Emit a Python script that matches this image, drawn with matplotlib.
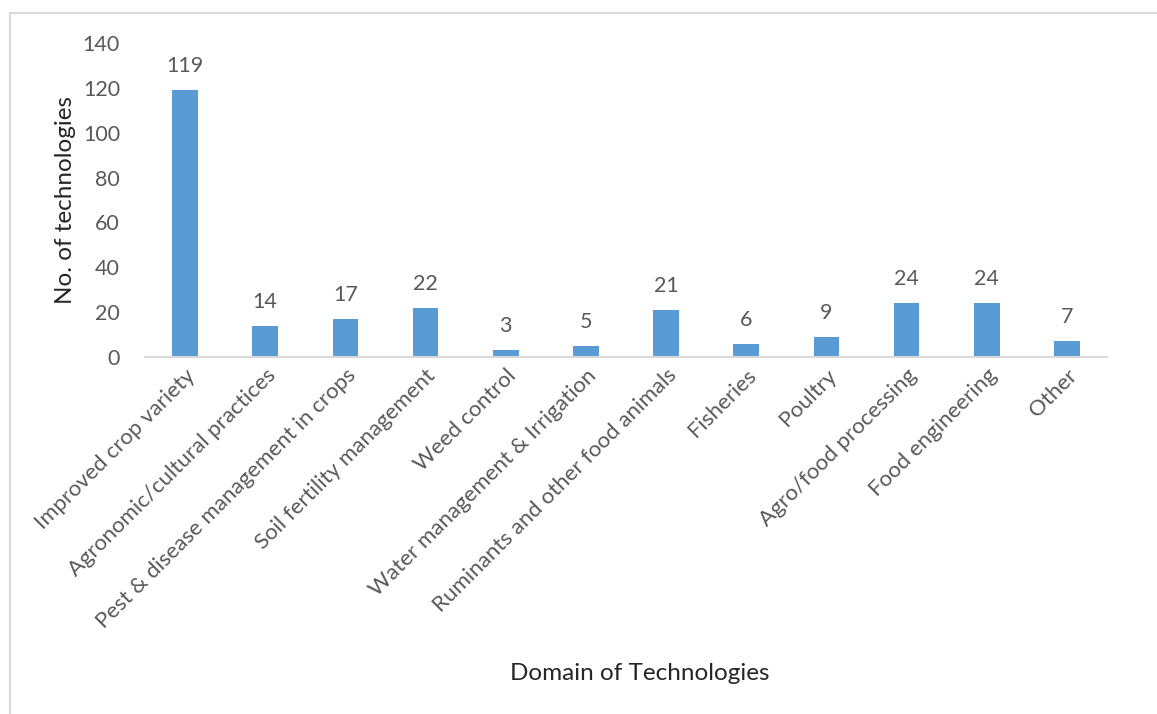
import matplotlib.pyplot as plt
from matplotlib.patches import Rectangle

plt.rcParams['font.family'] = ['Lato', 'DejaVu Sans']

domains = [
    "Improved crop variety",
    "Agronomic/cultural practices",
    "Pest & disease management in crops",
    "Soil fertility management",
    "Weed control",
    "Water management & Irrigation",
    "Ruminants and other food animals",
    "Fisheries",
    "Poultry",
    "Agro/food processing",
    "Food engineering",
    "Other",
]
counts = [119, 14, 17, 22, 3, 5, 21, 6, 9, 24, 24, 7]

text_color = "#595959"
bar_color = "#5B9BD5"
line_color = "#D9D9D9"

fig = plt.figure(figsize=(11.57, 7.14), dpi=100)
ax = fig.add_axes([0.1253, 0.5, 0.8315, 0.4398])

x = range(len(domains))
bars = ax.bar(x, counts, width=0.32, color=bar_color, zorder=2)

for rect, v in zip(bars, counts):
    ax.annotate(str(v), (rect.get_x() + rect.get_width() / 2, v),
                xytext=(0, 10), textcoords="offset points",
                ha="center", va="bottom", fontsize=15.5, color=text_color)

ax.set_xlim(-0.5, len(domains) - 0.5)
ax.set_ylim(0, 140)
ax.set_yticks(range(0, 141, 20))
ax.tick_params(axis="y", length=0, pad=18, labelsize=15.5, labelcolor=text_color)
ax.tick_params(axis="x", length=0, pad=6)
ax.set_xticks(list(x))
ax.set_xticklabels(domains, rotation=45, ha="right", rotation_mode="anchor",
                   fontsize=16, color=text_color)

for side in ["top", "right", "left"]:
    ax.spines[side].set_visible(False)
ax.spines["bottom"].set_color(line_color)
ax.spines["bottom"].set_linewidth(1.5)

ax.set_ylabel("No. of technologies", fontsize=17.5, color="#262626", labelpad=5)
fig.text(0.553, 0.057, "Domain of Technologies", ha="center", va="center",
         fontsize=17.5, color="#262626")

# light frame around the chart area
fig.patches.append(Rectangle((10 / 1157, -0.1), 1.2, 1 - 13 / 714 + 0.1,
                             transform=fig.transFigure, fill=False,
                             edgecolor=line_color, linewidth=1.5))

fig.savefig("out.png", dpi=100)
